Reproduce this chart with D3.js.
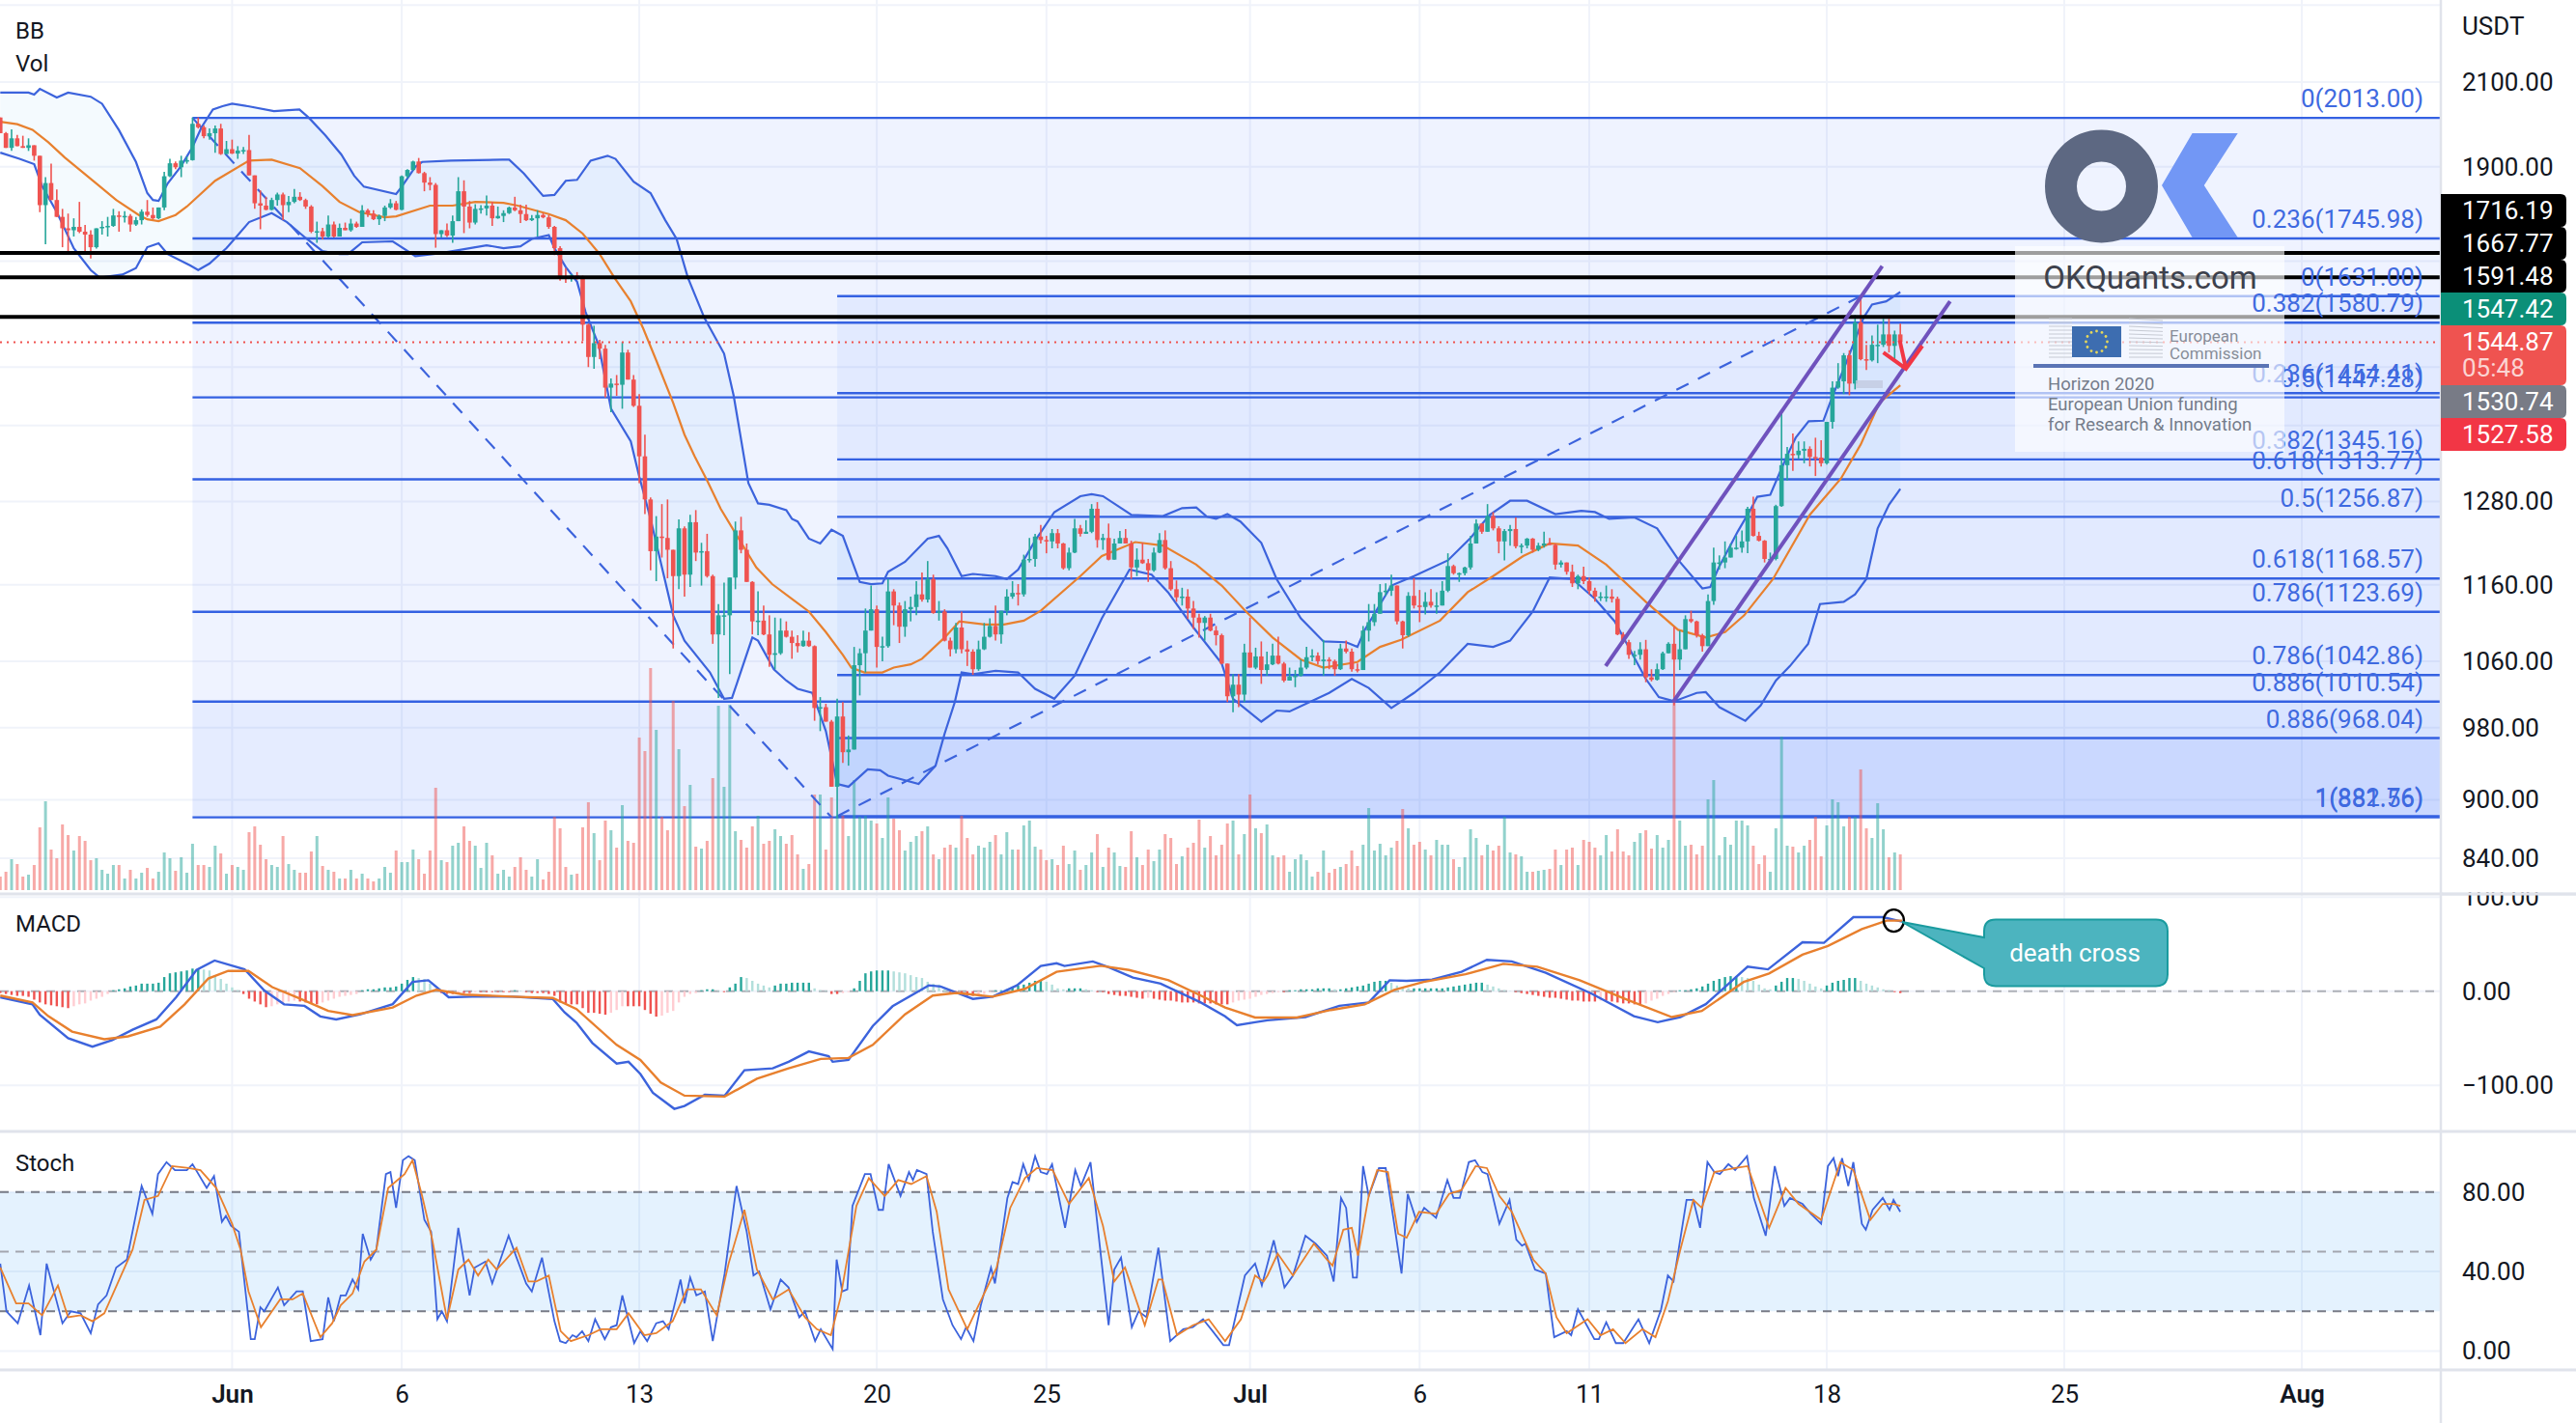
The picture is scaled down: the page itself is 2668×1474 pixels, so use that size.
<!DOCTYPE html>
<html>
<head>
<meta charset="utf-8">
<script src="https://cdnjs.cloudflare.com/ajax/libs/d3/7.8.5/d3.min.js"></script>
<style>
html,body{margin:0;padding:0;background:#fff;}
svg{display:block;font-family:Roboto,"Liberation Sans",sans-serif;}
</style>
</head>
<body>
<div id="chart"></div>
<script>
//4h candles, bar 0 is May 25 04:00. Opens are the close of the bar before
var firstOpen = 2014;
var closes = [
1977,1943,1965,1947,1943,1949,1925,1816,1864,1827,
1791,1767,1763,1770,1760,1754,1728,1767,1770,1772,
1794,1793,1793,1775,1784,1802,1795,1788,1811,1879,
1908,1899,1914,1915,1999,1991,1970,1977,1988,1929,
1940,1930,1937,1938,1881,1820,1815,1806,1827,1839,
1816,1823,1834,1827,1813,1760,1761,1750,1775,1750,
1768,1763,1777,1770,1805,1798,1786,1793,1811,1820,
1806,1879,1893,1912,1886,1865,1860,1755,1763,1752,
1782,1846,1813,1779,1808,1809,1815,1788,1793,1799,
1811,1805,1797,1784,1788,1795,1790,1770,1726,1669,
1667,1671,1669,1577,1518,1543,1533,1464,1471,1469,
1526,1478,1433,1350,1283,1207,1228,1226,1209,1172,
1240,1174,1249,1205,1207,1172,1094,1119,1119,1170,
1237,1209,1164,1111,1112,1094,1068,1070,1099,1091,
1083,1079,1086,1079,1003,1004,987,914,993,952,
955,1055,1070,1099,1127,1078,1079,1151,1132,1104,
1127,1130,1147,1140,1168,1122,1124,1086,1075,1103,
1075,1072,1050,1075,1091,1105,1094,1125,1144,1149,
1147,1195,1196,1228,1223,1221,1233,1218,1183,1205,
1240,1232,1235,1269,1223,1226,1195,1218,1226,1218,
1184,1195,1190,1180,1205,1223,1183,1154,1143,1144,
1128,1116,1109,1116,1099,1093,1057,1017,1031,1019,
1071,1052,1066,1049,1056,1067,1057,1036,1041,1042,
1052,1065,1067,1060,1062,1060,1050,1076,1072,1050,
1049,1099,1110,1121,1150,1152,1159,1111,1093,1145,
1132,1130,1137,1132,1132,1152,1186,1176,1176,1184,
1218,1247,1235,1258,1240,1221,1236,1239,1214,1215,
1225,1209,1215,1218,1216,1188,1191,1178,1162,1172,
1165,1152,1144,1144,1144,1141,1094,1084,1068,1068,
1075,1040,1037,1050,1070,1082,1062,1075,1114,1111,
1093,1079,1138,1191,1191,1198,1212,1212,1221,1269,
1229,1222,1196,1196,1273,1336,1354,1352,1359,1362,
1349,1348,1339,1406,1464,1475,1521,1471,1581,1514,
1512,1540,1540,1559,1538,1559,1544.87];
var highs = [
2014,1980,1986,1973,1971,1965,1949,1925,1877,1907,
1850,1808,1798,1788,1823,1774,1763,1767,1782,1791,
1808,1803,1803,1797,1791,1807,1827,1811,1811,1889,
1918,1912,1925,1923,2014,2014,1995,1988,1995,1999,
1959,1962,1947,1945,1973,1881,1848,1834,1832,1843,
1843,1836,1851,1844,1830,1816,1781,1768,1794,1781,
1777,1779,1787,1781,1816,1808,1805,1796,1815,1829,
1825,1881,1895,1914,1920,1889,1877,1864,1763,1777,
1794,1877,1870,1825,1818,1816,1837,1823,1813,1805,
1813,1834,1817,1817,1795,1805,1799,1795,1772,1730,
1686,1674,1678,1671,1579,1575,1549,1540,1480,1486,
1545,1531,1486,1453,1385,1286,1258,1276,1283,1209,
1253,1243,1260,1267,1219,1232,1174,1134,1163,1170,
1250,1257,1218,1165,1151,1132,1119,1116,1115,1111,
1099,1093,1099,1097,1080,1016,1008,989,1014,1010,
971,1078,1076,1128,1159,1132,1091,1168,1154,1136,
1138,1144,1165,1177,1193,1174,1138,1127,1090,1109,
1124,1086,1075,1086,1109,1115,1132,1125,1154,1165,
1161,1202,1226,1232,1245,1229,1239,1239,1219,1212,
1254,1245,1252,1276,1279,1232,1247,1225,1236,1239,
1222,1211,1219,1196,1212,1233,1237,1193,1166,1156,
1154,1138,1121,1118,1121,1105,1095,1057,1044,1044,
1082,1116,1077,1085,1072,1082,1091,1059,1052,1049,
1062,1078,1075,1071,1087,1065,1062,1082,1086,1076,
1057,1105,1134,1134,1161,1162,1174,1159,1112,1150,
1169,1153,1150,1154,1150,1165,1204,1188,1177,1185,
1229,1253,1247,1276,1264,1243,1239,1245,1256,1218,
1226,1226,1219,1235,1226,1218,1194,1191,1188,1174,
1185,1170,1156,1150,1159,1154,1144,1097,1087,1073,
1084,1087,1050,1057,1072,1084,1104,1099,1119,1125,
1112,1095,1147,1212,1201,1221,1218,1229,1237,1272,
1287,1235,1223,1205,1275,1420,1365,1387,1374,1374,
1366,1380,1376,1406,1475,1507,1525,1530,1595,1630,
1540,1557,1577,1588,1588,1566,1579];
var lows = [
1977,1943,1936,1947,1943,1936,1914,1801,1734,1827,
1791,1728,1715,1750,1757,1715,1705,1725,1754,1750,
1770,1760,1779,1760,1772,1775,1791,1786,1786,1805,
1877,1895,1877,1907,1914,1988,1965,1962,1932,1927,
1929,1929,1918,1929,1881,1808,1765,1805,1805,1815,
1784,1801,1820,1825,1808,1757,1737,1744,1748,1748,
1750,1763,1760,1768,1770,1791,1784,1774,1782,1808,
1805,1805,1875,1892,1885,1846,1848,1727,1748,1749,
1737,1782,1757,1767,1775,1798,1794,1772,1787,1780,
1797,1803,1778,1782,1782,1750,1788,1766,1712,1661,
1657,1659,1663,1547,1500,1497,1514,1447,1422,1450,
1428,1478,1431,1308,1261,1180,1165,1198,1169,1076,
1154,1144,1157,1193,1159,1170,1082,1015,1093,1044,
1154,1204,1164,1094,1093,1093,1053,1050,1068,1090,
1063,1071,1078,1078,988,976,987,914,881,940,
937,955,1018,1046,1099,1052,1060,1077,1106,1083,
1091,1111,1119,1137,1136,1121,1112,1085,1066,1070,
1070,1054,1043,1048,1074,1090,1086,1082,1119,1141,
1132,1144,1191,1185,1218,1204,1211,1211,1181,1180,
1204,1228,1232,1233,1212,1209,1194,1195,1218,1218,
1168,1172,1189,1164,1178,1204,1181,1152,1137,1132,
1114,1101,1090,1086,1098,1080,1056,1010,998,1004,
1010,1052,1050,1032,1042,1055,1056,1034,1036,1028,
1041,1050,1060,1056,1042,1050,1042,1049,1070,1047,
1046,1049,1085,1105,1121,1145,1145,1107,1076,1091,
1128,1110,1120,1129,1121,1132,1150,1174,1164,1173,
1181,1218,1232,1235,1237,1204,1194,1215,1211,1204,
1211,1205,1207,1212,1216,1181,1184,1174,1157,1154,
1161,1147,1137,1138,1137,1136,1093,1082,1063,1055,
1062,1034,1035,1036,1049,1070,1006,1049,1075,1109,
1090,1072,1079,1133,1181,1183,1198,1209,1205,1204,
1228,1221,1191,1194,1194,1272,1312,1327,1346,1339,
1334,1319,1334,1337,1395,1462,1453,1451,1461,1512,
1495,1510,1507,1536,1526,1514,1540];
var volumes = [
14,19,32,27,14,16,26,65,92,42,
33,68,57,41,56,51,31,33,21,17,
26,26,12,21,12,18,23,12,19,39,
33,20,34,18,48,26,26,24,46,38,
17,26,24,21,60,66,47,32,26,24,
56,27,21,18,18,40,56,25,21,19,
12,12,21,12,17,12,9,12,24,18,
41,29,29,42,32,17,41,106,31,29,
46,49,66,51,46,23,49,36,17,21,
14,24,34,21,14,32,11,19,76,64,
24,16,17,65,91,59,31,72,62,44,
88,51,49,158,144,230,166,76,62,196,
146,87,109,45,43,51,116,191,107,192,
61,52,44,66,77,48,51,63,56,48,
57,37,22,27,99,99,42,96,77,77,
56,114,76,77,72,69,54,96,74,62,
41,50,56,61,66,37,32,44,47,44,
77,54,37,46,44,50,57,37,60,42,
42,67,72,45,42,31,32,26,46,27,
41,21,26,39,58,24,44,39,25,24,
61,34,26,42,30,42,58,54,27,35,
44,49,73,44,56,36,47,69,72,37,
58,99,64,59,68,36,34,36,19,32,
37,31,14,19,41,18,22,24,27,41,
25,47,85,41,48,36,44,51,84,64,
47,50,42,36,52,47,47,32,24,34,
63,54,36,47,41,46,76,39,37,35,
19,19,20,21,22,42,26,42,44,26,
52,50,44,36,57,40,63,40,36,50,
59,62,43,57,44,52,196,72,46,47,
37,46,94,114,36,55,47,72,72,67,
46,27,36,19,64,159,46,45,39,46,
52,76,35,67,94,91,66,76,76,125,
64,54,90,63,34,39,37];

//Bollinger bands, [bar, price]
var bbUpper = [[0,2074],[5,2074],[6,2069],[7,2083],[10,2062],[12,2074],[16,2064],[18,2047],[21,1984],[24,1911],[26,1842],[27,1827],[28,1825],[29.6,1863],[32,1902],[34,1945],[35.6,1991],[37.6,2033],[39.3,2041],[41,2047],[43.8,2041],[48.4,2029],[52.9,2033],[54.6,2013],[57.5,1972],[60.3,1928],[62.6,1880],[64.3,1856],[70,1840],[71,1856],[73.4,1900],[74.6,1911],[79.7,1914],[88.8,1916],[90,1916],[92.6,1885],[96,1836],[98,1838],[100,1869],[102,1871],[104.4,1914],[107.4,1925],[108.8,1918],[112,1867],[115,1842],[117.6,1784],[119.6,1745],[121.6,1667],[124.5,1590],[128,1524],[129.7,1450],[132.3,1308],[134,1277],[136,1275],[139,1267],[140,1254],[141,1250],[143,1225],[145,1218],[147,1238],[149,1229],[152,1164],[154,1161],[156,1162],[157,1178],[160,1192],[164,1225],[166,1229],[167.5,1211],[170,1172],[172,1175],[176,1172],[178,1168],[180,1181],[183,1222],[186.4,1264],[191,1288],[193,1291],[195,1288],[200,1260],[205.6,1258],[209,1270],[211.5,1271],[213.4,1257],[215,1254],[217,1261],[219.3,1250],[223,1219],[225.7,1168],[230,1115],[234,1085],[238,1084],[240,1078],[241.3,1100],[246,1159],[250,1172],[256,1194],[260,1226],[263.4,1260],[267,1281],[270,1281],[275,1261],[279.6,1266],[282,1264],[284.5,1254],[289,1256],[293,1240],[297,1192],[301,1155],[302.4,1157],[303.9,1184],[307.3,1236],[309.6,1269],[310.7,1287],[313,1290],[315,1331],[316.4,1359],[317.5,1380],[319.8,1407],[322.4,1408],[323.8,1444],[326.6,1512],[329.5,1590],[331,1615],[333.5,1621],[336,1639]];
var bbBasis = [[0,2004],[3,1998],[5.7,1985],[8.5,1956],[11.4,1921],[17,1863],[20.5,1827],[24.5,1795],[26,1786],[28,1782],[31,1795],[33,1813],[38,1869],[44,1914],[48,1916],[53,1897],[57,1857],[60,1823],[63.5,1801],[68,1790],[70,1792],[76,1815],[80,1815],[84,1823],[89,1821],[91.5,1815],[97,1797],[100,1784],[103,1756],[106,1714],[108.6,1667],[111.5,1621],[113.7,1570],[116,1512],[119,1438],[121,1385],[122.8,1350],[125,1312],[127.4,1269],[129.7,1237],[133.7,1184],[136.5,1161],[140,1141],[143,1124],[146,1097],[149,1068],[150.5,1052],[152.8,1046],[156,1046],[158,1052],[161,1056],[163,1063],[167,1090],[169.6,1111],[174,1107],[177.5,1107],[181,1112],[184,1125],[191,1172],[194.8,1200],[200.7,1220],[205.6,1215],[211.5,1188],[216,1159],[220.3,1124],[225,1090],[230,1062],[234,1052],[240,1059],[244,1078],[247.7,1087],[254.6,1112],[259.5,1150],[264,1172],[269.3,1200],[274,1218],[279,1215],[284,1188],[291,1137],[296.7,1100],[301.6,1090],[305,1097],[308.4,1119],[313.5,1168],[320,1260],[325.5,1315],[329,1369],[332.3,1438],[336,1468]];
var bbLower = [[0,1932],[3.4,1918],[6,1906],[7.4,1857],[10,1801],[13,1726],[16,1682],[17.6,1667],[21.6,1673],[24,1686],[26,1728],[28,1736],[29.6,1714],[33.6,1691],[35,1682],[37,1695],[40,1726],[44,1780],[48,1799],[50.7,1780],[54,1747],[57,1720],[60,1714],[61.5,1714],[64,1738],[69.4,1740],[73.4,1710],[78,1716],[82,1724],[86,1732],[89,1726],[92,1730],[94,1745],[97,1753],[98,1726],[100,1688],[102,1659],[103.5,1601],[105.8,1540],[108,1428],[111.5,1374],[113,1318],[115,1254],[119,1119],[121,1086],[125.5,1046],[128,1014],[129.4,1015],[133,1090],[134,1086],[136.8,1050],[139,1036],[141,1026],[143.6,1021],[146,976],[148,917],[150,914],[153.4,933],[155.6,932],[157,926],[162.4,917],[165.4,937],[167,973],[168.8,1010],[170,1046],[172,1044],[176,1048],[180,1046],[183,1026],[186.4,1014],[190,1042],[194.8,1115],[199.7,1181],[203.6,1174],[206.5,1150],[211,1103],[216,1057],[218,1014],[223,987],[225.7,1000],[228,999],[235,1021],[239,1038],[242,1027],[246,1003],[250,1021],[254.6,1046],[259.5,1082],[264,1078],[267,1086],[271,1124],[274,1170],[278,1168],[282,1141],[285.5,1111],[291,1038],[293.3,1016],[296,1011],[300,1021],[301.6,1022],[304,1004],[308.6,988],[311.3,1006],[314,1036],[316.5,1054],[319.7,1082],[321.8,1134],[326,1137],[328,1147],[330,1168],[332,1240],[334,1275],[336,1299]];

//MACD, [bar, value]
var macdLine = [[0,-6.5],[5.7,-14],[7,-25],[12,-50],[16.3,-59],[19.8,-52],[23.4,-41],[27.6,-30],[31.1,-6.5],[34.7,22.5],[37.9,32.6],[43.2,23.2],[46.7,0.7],[50.2,-14],[53.8,-15.6],[56.6,-26.8],[59.4,-30],[63.7,-24.6],[69.4,-13.8],[72.9,9.8],[75.7,11.6],[79.3,-6.5],[83.5,-5.8],[90.6,-5.8],[97.7,-8.2],[99.8,-22.6],[101.9,-33.5],[104.7,-55],[109,-77],[111.1,-75],[113.2,-88],[115.4,-108],[119.2,-125],[121,-122],[124.6,-110],[128.1,-111],[131.6,-84],[136.6,-82],[139.4,-75],[143,-64],[146.5,-69],[147.2,-75],[150,-73],[154.3,-37],[157.8,-16],[164.2,6.2],[166.3,5],[172,-8.2],[175.5,-5.8],[179.8,6.2],[184,26.8],[186.8,29.7],[188.2,26.8],[193.2,31.6],[196,25.4],[200.3,14.5],[205.2,8],[212.3,-12],[216.6,-26.8],[218.7,-36.2],[221.9,-33],[224.1,-31],[230.8,-27.5],[236.8,-15.6],[242,-12],[245.7,11.6],[248.7,10.9],[253.2,12.3],[258.4,20.6],[262.9,33.3],[267.3,31.6],[273.3,19.5],[281.5,-2.9],[288.9,-26.5],[293.1,-33],[297.1,-27.5],[301.6,-13.8],[309,26],[312.6,23.2],[318.7,52],[322.5,51.4],[327.7,78.6],[332.9,78.6],[336.3,74]];
var macdSignal = [[0,-4.7],[5.7,-12],[8.5,-26.5],[12.7,-43],[18.4,-51],[22.6,-48],[28.3,-37.7],[32.6,-14],[36.8,13.5],[40.3,21.5],[43.9,21.5],[48.1,4.3],[53.1,-8.2],[58,-21],[62.3,-25.4],[69.4,-17.4],[73.6,-4.7],[77.1,1.4],[82.1,-3.6],[90.6,-5.8],[97.7,-7.2],[101.9,-19],[109,-57],[113.2,-73],[116.8,-97],[121,-111],[128.1,-112],[133.8,-93],[139.4,-82],[145.1,-72],[150,-71],[154.3,-57],[160,-24.6],[164.9,-4.7],[169.1,-1.8],[175.5,-5.8],[181.2,2.5],[186.8,20.6],[194.6,27],[199.6,22.5],[206.6,11.6],[212.3,-4.7],[216.6,-17.4],[221.9,-28],[229.3,-28],[235.3,-20],[241.3,-14],[246.5,1.4],[251.7,9.8],[259.1,18],[265.8,29],[271.8,26],[279.3,11.6],[287.4,-8.3],[295.6,-27.5],[300.9,-21],[308.3,9.8],[312.8,18.8],[318.7,38.8],[323.2,48],[329.2,66],[333.6,75],[336.3,75]];
var macdHist = [
-2,-3,-4,-5,-5,-6,-9,-12,-14,-15,
-16,-17,-18,-16,-14,-13,-10,-8,-6,-3,
1,2,3,5,6,8,8,8,9,15,
19,20,21,22,24,24,23,22,17,13,
8,4,1,-3,-8,-11,-14,-17,-16,-14,
-12,-11,-10,-11,-12,-13,-14,-12,-10,-8,
-6,-5,-4,-3,1,2,2,3,4,4,
5,8,12,15,14,13,8,2,-2,-3,
-3,-2,-2,-2,-1,-1,-1,-1,-1,-1,
-1,1,0.5,-1,-2,-2,-2,-3,-5,-12,
-13,-14,-14,-18,-23,-23,-24,-25,-23,-20,
-16,-16,-16,-16,-20,-24,-27,-26,-23,-21,
-12,-6,-3,-2,1,2,2,0.5,-1,4,
8,15,14,11,8,6,4,6,8,8,
9,9,9,9,3,1,0.5,-3,-3,-2,
-1,3,11,19,21,22,22,22,21,20,
19,17,15,14,10,8,7,2,-1,-3,
-4,-5,-5,-4,-3,-1,1,1,2,4,
6,7,9,11,12,10,7,3,2,3,
3,3,2,1,-1,-1,-3,-4,-5,-5,
-6,-7,-8,-7,-8,-9,-10,-10,-11,-12,
-12,-12,-13,-13,-13,-14,-14,-14,-12,-10,
-9,-8,-6,-4,-3,-2,-1,-1,1,1,
2,2,2,3,3,3,2,2,3,4,
5,6,8,10,11,11,9,6,4,3,
3,3,3,3,3,3,4,5,6,7,
8,9,9,7,5,3,1,0.3,-1,-2,
-3,-4,-5,-6,-7,-7,-8,-9,-10,-10,
-11,-11,-11,-10,-10,-11,-12,-13,-13,-14,
-14,-13,-10,-8,-5,-3,-1,1,1,2,
3,5,8,11,13,15,16,16,15,14,
11,7,3,2,6,10,14,14,13,11,
8,5,3,6,9,11,12,14,14,11,
8,6,4,2,1,-1,-2];

//Stochastic, [bar, value]
var stochK = [[0,44],[1.1,20],[3.1,14],[5.1,33],[7.1,8],[8.2,44],[11,14],[12.5,20],[14.2,19],[16,9],[17.3,23.5],[18.8,28],[20.5,42],[22.4,46],[25,83],[26.9,69],[27.9,89],[29.4,95],[30.9,91],[33,91],[34,94],[36.5,82],[37.8,88],[39.2,65],[39.9,68],[40.8,63],[42.2,60],[44.3,6],[45,6],[46,22],[46.7,20],[49.1,32],[50.2,23],[52.4,30],[53.5,30],[54.9,5],[57,6],[58,27],[59,15],[60.2,28],[61.1,28],[62.3,36],[63.3,31],[64.1,59],[65.5,46],[66.5,51],[68.2,89],[69,90],[70,72],[71.2,96],[72.2,98],[73.3,96],[75,66],[76.2,60],[77.3,16],[78.1,20],[79,15],[81,62],[83,28],[83.9,42],[85.8,45],[87,34],[89.9,58],[91.3,47],[93,34],[94,30],[95.8,47],[98,15],[99,5],[100,4],[101.2,8],[101.9,7],[102.9,10],[104,5],[105.2,16],[106.9,6],[108,12],[109,13],[110,28],[112.1,4],[113.2,10],[114.4,5],[116,14],[117.2,15],[118.2,11],[120.3,36],[121,24],[122,37],[123.1,28],[124.6,30],[126,5],[128.1,39],[130.2,83],[132,60],[133.2,38],[134.2,40],[136.2,21],[138,36],[139.4,32],[141.3,17],[142.3,20],[144.1,5],[145.1,11],[147.2,1],[147.9,46],[148.9,30],[149.8,31],[150.7,73],[152.9,89],[153.9,89],[155.3,71],[156.1,71],[157.1,94],[159.2,78],[160.7,90],[161.4,86],[162.1,91],[163.8,89],[164.9,60],[166.7,26],[168.4,13],[169.9,6],[170.8,12],[172.1,5],[173.4,23],[175.2,42],[175.9,34],[178.1,77],[179,85],[180,84],[180.9,94],[181.9,86],[183,98],[184,90],[185.1,89],[186,94],[188.3,62],[190.1,91],[191.1,83],[192.8,95],[194.2,59],[196,13],[197,41],[198.2,47],[200.1,12],[201.3,20],[202.7,17],[204.8,52],[206.9,5],[209.2,11],[210.9,12],[212.7,16],[214.4,10],[216.3,3],[217.3,3],[220.1,38],[221.9,44],[223.1,33],[225.2,55.7],[227.1,32],[228.6,38],[230.8,58],[232.6,54],[234.6,48],[235.8,35],[237.1,77],[238,72],[239.2,37],[239.9,37],[241,93],[242,78],[243.8,92],[245,92],[246.5,64],[247.8,39],[248.9,79],[250.5,65],[251.8,72],[253.9,67],[255.9,86],[257,77],[258.1,77],[259.7,95],[260.8,96],[262.1,90],[263,89],[265.1,64],[266.9,76],[268.1,56],[269.1,53],[269.7,54],[271.4,41],[273.3,39],[274.8,7],[277,10],[277.8,8],[279,21],[281.9,6],[282.7,6],[284,14.5],[285.7,4],[287,4],[289.7,16],[291.6,4],[293.7,21],[294.9,38],[295.9,35],[298.2,76],[299.4,76],[300.6,62],[301.9,95],[303.1,90],[304.1,89],[305.6,94],[306.8,91],[308.9,98],[310.1,77],[312.2,58],[313.8,93],[315.5,73],[316.5,77],[318.7,74],[320.2,69],[322,64],[323.2,93],[324.2,97],[325,88],[325.7,97],[326.8,83],[327.7,95],[329.2,64],[329.9,61],[331.1,71],[332.9,77],[334.1,71],[334.8,76],[336,70]];
var stochD = [[0,42],[2.8,24],[5,24],[7.4,18],[10.2,33],[12,17],[14.2,18],[16.3,15],[18.4,19],[21.2,37],[23.4,51],[25.5,76],[27.9,78],[30.4,93],[33.3,92],[35.4,91],[38.2,82],[41,64],[42.5,51],[43.9,30],[46.1,12],[49.5,26],[51.7,26],[53.5,29],[56.6,7],[58.7,14],[60.2,23],[62.3,29],[64.4,45],[66.5,51],[68.6,82],[71.5,89],[72.9,96],[74.6,78],[76.4,56],[79,16],[81,41],[82.8,46],[84.5,38],[86.3,46],[87.8,41],[91.3,52],[93.4,35],[94.8,35],[97,38],[99.1,10],[100.9,5],[104,8],[106.2,11],[109,11],[111.1,19],[113.9,8],[116,9],[118.9,15],[121.4,31],[123.9,31],[126.7,18],[128.8,44],[131.6,71],[133.8,41],[136.6,26],[139.4,31],[142.3,17],[144.4,11],[146.9,8],[148.6,27],[151.4,73],[153.6,87],[156.4,78],[158.8,86],[161.1,84],[163.8,88],[165.6,70],[167.7,31],[171,11],[173,23],[176.2,42],[178.6,72],[181.2,87],[183.3,92],[186.1,91],[189,74],[192.5,87],[195,63],[197,35],[198.9,42],[202.4,13],[204.8,36],[205.5,36],[208.1,8],[210.9,13],[213.7,16],[216.6,5],[219.4,16],[221.9,38],[223.4,35],[224.1,38],[225.9,49],[228.6,38],[232.3,54],[234.6,46],[235.6,43],[237.5,61],[239,62],[240.1,48],[242,78],[243.5,91],[245.4,90],[247.2,59],[248.7,57],[250.9,70],[253.9,69],[256.2,79],[258.4,81],[260.9,93],[262.9,92],[265.1,78],[267.3,70],[271.1,46],[273.3,39],[275.2,17],[277,9],[280.7,16],[283,8],[285.2,11],[287.4,4],[290.4,11],[292.7,7],[294.9,25],[297.1,51],[299.4,76],[300.9,72],[303.1,90],[306.8,92],[309,93],[312.8,62],[315.7,82],[318,74],[322,66],[325.4,95],[327.7,91],[330.7,66],[332.9,74],[334.8,74],[336,73]];

//Fibonacci retracements
var fibALevels = ['0','0.236','0.382','0.5','0.618','0.786','0.886','1'];
var fibAPrices = [2013,1745.98,1580.79,1447.28,1313.77,1123.69,1010.54,881.56];
var fibBLevels = ['0','0.236','0.382','0.5','0.618','0.786','0.886','1'];
var fibBPrices = [1631,1454.41,1345.16,1256.87,1168.57,1042.86,968.04,882.76];
var fibAStartBar = 34, fibBStartBar = 148;
var trendA = [[34,2013],[147,881.56]];
var trendB = [[148,882.76],[329,1631]];

//Drawings
var channelUpper = [[283.9,1054],[332.8,1690]];
var channelLower = [[295.8,1010],[344.8,1621]];
var arrowShaft = [[335.9,1548],[337,1497]];
var arrowHead = [[333,1526],[337,1497],[339.9,1538]];
var blackLevels = [1716.19,1667.77,1591.48];
var lastPrice = 1544.87;

//Axes
var priceLabels = [2100,1900,1280,1160,1060,980,900,840];
var priceGrid = [2300,2100,1900,1700,1500,1400,1280,1160,1060,980,900,840];
var macdTicks = [100,0,-100];
var stochTicks = [80,40,0];
var stochBands = [80,50,20];
var timeTicks = ['2022-06-01','2022-06-06','2022-06-13','2022-06-20','2022-06-25','2022-07-01','2022-07-06','2022-07-11','2022-07-18','2022-07-25','2022-08-01'];
var timeLabels = ['Jun','6','13','20','25','Jul','6','11','18','25','Aug'];

var priceTags = ['1716.19','1667.77','1591.48','1547.42','1544.87','1530.74','1527.58'];
var tagColors = ['#000000','#000000','#000000','#0b8f78','#ef5350','#787b86','#f23645'];

var W = 2668, H = 1474, axisX = 2528;
var mainBottom = 926, macdBottom = 1172, stochBottom = 1419;
var up = '#26a69a', down = '#ef5350', blue = '#3c63dc', orange = '#e8802e', fibBlue = '#3461e2';

var startTime = Date.UTC(2022,4,25,4);
var xTime = d3.scaleUtc()
  .domain([new Date(Date.UTC(2022,5,1)), new Date(Date.UTC(2022,7,1))])
  .range([240.4, 2384]);
var xBar = function(i){ return xTime(new Date(startTime + i*4*3600*1000)); };

var yPrice = d3.scaleLog().domain([840,2100]).range([889,85]);
var yVol = d3.scaleLinear().domain([0,230]).range([922,692]);
var yMacd = d3.scaleLinear().domain([-100,100]).range([1124.2,929.2]);
var yStoch = d3.scaleLinear().domain([0,100]).range([1399.5,1193.5]);

var opens = closes.map(function(c,i){ return i === 0 ? firstOpen : closes[i-1]; });

var svg = d3.select('#chart').append('svg').attr('width',W).attr('height',H);
var defs = svg.append('defs');
defs.append('clipPath').attr('id','clipMain').append('rect').attr('x',0).attr('y',0).attr('width',axisX).attr('height',mainBottom);

svg.append('rect').attr('width',W).attr('height',H).attr('fill','#fff');

//grid
var grid = svg.append('g').attr('stroke','#f0f3fa').attr('stroke-width',2);
timeTicks.forEach(function(t){
  var x = xTime(new Date(t+'T00:00:00Z'));
  grid.append('line').attr('x1',x).attr('x2',x).attr('y1',0).attr('y2',stochBottom);
});
priceGrid.forEach(function(p){
  grid.append('line').attr('x1',0).attr('x2',axisX).attr('y1',yPrice(p)).attr('y2',yPrice(p));
});
macdTicks.forEach(function(v){
  grid.append('line').attr('x1',0).attr('x2',axisX).attr('y1',yMacd(v)).attr('y2',yMacd(v));
});
stochTicks.forEach(function(v){
  grid.append('line').attr('x1',0).attr('x2',axisX).attr('y1',yStoch(v)).attr('y2',yStoch(v));
});

var main = svg.append('g').attr('clip-path','url(#clipMain)');

//fib bands
var draw_fib_bands = function(prices, startBar, lastAlpha, alpha){
  for (var i=0; i<prices.length-1; i++){
    main.append('rect')
      .attr('x',xBar(startBar)).attr('width',axisX-xBar(startBar))
      .attr('y',yPrice(prices[i])).attr('height',yPrice(prices[i+1])-yPrice(prices[i]))
      .attr('fill','#2962ff')
      .attr('fill-opacity', i === prices.length-2 ? lastAlpha : alpha);
  }
};
draw_fib_bands(fibAPrices, fibAStartBar, 0.12, 0.075);
draw_fib_bands(fibBPrices, fibBStartBar, 0.14, 0.06);

//OK logo sits under the fib lines
svg.append('circle').attr('cx',2176.5).attr('cy',193).attr('r',42).attr('fill','none').attr('stroke','#5d6882').attr('stroke-width',33);
svg.append('polygon').attr('points','2270.6,138 2317.7,138 2282.8,192 2317.7,246 2270.6,246 2239,192').attr('fill','#7297f5');

//bollinger fill
var line_bar_price = d3.line().x(function(d){return xBar(d[0]);}).y(function(d){return yPrice(d[1]);});
main.append('path')
  .attr('d', line_bar_price(bbUpper.concat(bbLower.slice().reverse())) + 'Z')
  .attr('fill','#2196f3').attr('fill-opacity',0.05);

//fib lines
var draw_fib_lines = function(prices, startBar){
  prices.forEach(function(p){
    main.append('line')
      .attr('x1',xBar(startBar)).attr('x2',axisX)
      .attr('y1',yPrice(p)).attr('y2',yPrice(p))
      .attr('stroke',fibBlue).attr('stroke-width',2.4);
  });
};
draw_fib_lines(fibAPrices, fibAStartBar);
draw_fib_lines(fibBPrices, fibBStartBar);

//volume
main.selectAll('rect.vol').data(volumes).enter().append('rect')
  .attr('class','vol')
  .attr('x',function(d,i){return xBar(i)-1.5;})
  .attr('width',3)
  .attr('y',function(d){return yVol(d);})
  .attr('height',function(d){return yVol(0)-yVol(d);})
  .attr('fill',function(d,i){return closes[i]>=opens[i] ? up : down;})
  .attr('fill-opacity',0.5);

//trend lines
[trendA,trendB].forEach(function(t){
  main.append('path').attr('d',line_bar_price(t))
    .attr('fill','none').attr('stroke',blue).attr('stroke-width',2.2).attr('stroke-dasharray','14 11');
});

//bollinger lines
main.append('path').attr('d',line_bar_price(bbUpper)).attr('fill','none').attr('stroke',blue).attr('stroke-width',2.2);
main.append('path').attr('d',line_bar_price(bbLower)).attr('fill','none').attr('stroke',blue).attr('stroke-width',2.2);
main.append('path').attr('d',line_bar_price(bbBasis)).attr('fill','none').attr('stroke',orange).attr('stroke-width',2.2);

//candles
var candle = main.selectAll('g.candle').data(closes).enter().append('g').attr('class','candle');
candle.append('line')
  .attr('x1',function(d,i){return xBar(i);})
  .attr('x2',function(d,i){return xBar(i);})
  .attr('y1',function(d,i){return yPrice(Math.max(highs[i],opens[i],closes[i]));})
  .attr('y2',function(d,i){return yPrice(Math.min(lows[i],opens[i],closes[i]));})
  .attr('stroke',function(d,i){return closes[i]>=opens[i] ? up : down;})
  .attr('stroke-width',1.6);
candle.append('rect')
  .attr('x',function(d,i){return xBar(i)-2.3;})
  .attr('width',4.6)
  .attr('y',function(d,i){return yPrice(Math.max(opens[i],closes[i]));})
  .attr('height',function(d,i){return Math.max(1.5,Math.abs(yPrice(opens[i])-yPrice(closes[i])));})
  .attr('fill',function(d,i){return closes[i]>=opens[i] ? up : down;});

//last price
main.append('line').attr('x1',0).attr('x2',axisX).attr('y1',yPrice(lastPrice)).attr('y2',yPrice(lastPrice))
  .attr('stroke','#ef5350').attr('stroke-width',2).attr('stroke-dasharray','2 5');

//support and resistance
blackLevels.forEach(function(p){
  main.append('line').attr('x1',0).attr('x2',axisX).attr('y1',yPrice(p)).attr('y2',yPrice(p))
    .attr('stroke','#000').attr('stroke-width',4);
});

//channel
[channelUpper,channelLower].forEach(function(c){
  main.append('path').attr('d',line_bar_price(c)).attr('fill','none').attr('stroke','#6f52bd').attr('stroke-width',4);
});
main.append('rect').attr('x',1922).attr('y',394).attr('width',28).attr('height',8).attr('fill','#c3cbe0').attr('fill-opacity',0.8);

//red arrow
[arrowShaft,arrowHead].forEach(function(a){
  main.append('path').attr('d',line_bar_price(a)).attr('fill','none').attr('stroke','#f23645').attr('stroke-width',4);
});

//fib labels. skip is drawn later, on top of the logo panel
var draw_fib_labels = function(levels, prices, only){
  prices.forEach(function(p,i){
    if (only(i)){
      svg.append('text').attr('x',2510).attr('y',yPrice(p)-20).attr('dy','0.35em')
        .attr('text-anchor','end').attr('font-size',26).attr('fill','#3f6ae0')
        .text(levels[i]+'('+p.toFixed(2)+')');
    }
  });
};
draw_fib_labels(fibALevels, fibAPrices, function(i){return i !== 2;});
draw_fib_labels(fibBLevels, fibBPrices, function(i){return true;});

//logo panel, washes out everything under it
svg.append('rect').attr('x',2087).attr('y',255).attr('width',279).attr('height',213).attr('fill','#fff').attr('fill-opacity',0.62);
svg.append('text').attr('x',2227).attr('y',287).attr('dy','0.35em').attr('text-anchor','middle').attr('font-size',33).attr('fill','#3d414c').text('OKQuants.com');
draw_fib_labels(fibALevels, fibAPrices, function(i){return i === 2;});

//EU building stripes
var eu = svg.append('g').attr('stroke','#c6cad3').attr('stroke-width',1);
d3.range(330,371,4).forEach(function(y){
  eu.append('line').attr('x1',2122).attr('x2',2146).attr('y1',y).attr('y2',y);
  eu.append('line').attr('x1',2205).attr('x2',2240).attr('y1',y).attr('y2',y+ (370-y)*0.05);
});
svg.append('rect').attr('x',2146).attr('y',338).attr('width',51).attr('height',32).attr('fill','#3d6db0');
d3.range(12).forEach(function(k){
  var a = k*Math.PI/6;
  svg.append('circle').attr('cx',2171.5+Math.cos(a)*11).attr('cy',354+Math.sin(a)*11).attr('r',1.4).attr('fill','#e6d75a');
});
svg.append('text').attr('x',2247).attr('y',348).attr('dy','0.35em').attr('font-size',17).attr('fill','#878d98').text('European');
svg.append('text').attr('x',2247).attr('y',366).attr('dy','0.35em').attr('font-size',17).attr('fill','#878d98').text('Commission');
svg.append('rect').attr('x',2106).attr('y',377).attr('width',244).attr('height',4).attr('fill','#5a74b5');
[['Horizon 2020',398],['European Union funding',419],['for Research & Innovation',440]].forEach(function(t){
  svg.append('text').attr('x',2121).attr('y',t[1]).attr('dy','0.35em').attr('font-size',18.5).attr('fill','#747c8a').text(t[0]);
});

//MACD pane
svg.append('line').attr('x1',0).attr('x2',axisX).attr('y1',yMacd(0)).attr('y2',yMacd(0))
  .attr('stroke','#aeb1b8').attr('stroke-width',2).attr('stroke-dasharray','9 7');
var hist_color = function(v,i){
  var prev = i === 0 ? 0 : macdHist[i-1];
  if (v >= 0) return v >= prev ? up : '#b2dfdb';
  return v <= prev ? '#ef5350' : '#ffcdd2';
};
svg.selectAll('rect.hist').data(macdHist).enter().append('rect')
  .attr('class','hist')
  .attr('x',function(d,i){return xBar(i)-1.2;})
  .attr('width',2.4)
  .attr('y',function(d){return Math.min(yMacd(d),yMacd(0));})
  .attr('height',function(d){return Math.abs(yMacd(d)-yMacd(0));})
  .attr('fill',hist_color);
var line_macd = d3.line().x(function(d){return xBar(d[0]);}).y(function(d){return yMacd(d[1]);});
svg.append('path').attr('d',line_macd(macdLine)).attr('fill','none').attr('stroke',blue).attr('stroke-width',2.4);
svg.append('path').attr('d',line_macd(macdSignal)).attr('fill','none').attr('stroke',orange).attr('stroke-width',2.4);

//death cross marker and callout
svg.append('ellipse').attr('cx',1961.4).attr('cy',953.6).attr('rx',10.5).attr('ry',11.5)
  .attr('fill','none').attr('stroke','#000').attr('stroke-width',2.4);
svg.append('path')
  .attr('d','M2067,952.5 H2233 Q2245,952.5 2245,964.5 V1009.4 Q2245,1021.4 2233,1021.4 H2067 Q2055,1021.4 2055,1009.4 V1003 L1970,955 L2055,971 V964.5 Q2055,952.5 2067,952.5 Z')
  .attr('fill','#4cb4bf').attr('stroke','#1a9b9f').attr('stroke-width',2);
svg.append('text').attr('x',2149).attr('y',987).attr('dy','0.35em').attr('text-anchor','middle').attr('font-size',26).attr('fill','#fff').text('death cross');

//Stoch pane
svg.append('rect').attr('x',0).attr('width',axisX).attr('y',yStoch(80)).attr('height',yStoch(20)-yStoch(80))
  .attr('fill','#2196f3').attr('fill-opacity',0.12);
stochBands.forEach(function(v){
  svg.append('line').attr('x1',0).attr('x2',axisX).attr('y1',yStoch(v)).attr('y2',yStoch(v))
    .attr('stroke', v === 50 ? '#a3a6af' : '#787b86').attr('stroke-width',2).attr('stroke-dasharray','9 7');
});
var line_stoch = d3.line().x(function(d){return xBar(d[0]);}).y(function(d){return yStoch(d[1]);});
svg.append('path').attr('d',line_stoch(stochK)).attr('fill','none').attr('stroke',blue).attr('stroke-width',1.8);
svg.append('path').attr('d',line_stoch(stochD)).attr('fill','none').attr('stroke',orange).attr('stroke-width',1.8);

//pane separators and axis lines
var sep = svg.append('g').attr('stroke','#e0e3eb');
[mainBottom,macdBottom,stochBottom].forEach(function(y){
  sep.append('line').attr('x1',0).attr('x2',W).attr('y1',y).attr('y2',y).attr('stroke-width',3);
});
sep.append('line').attr('x1',axisX).attr('x2',axisX).attr('y1',0).attr('y2',H).attr('stroke-width',2.5);

//axes
var style_axis = function(g){
  g.select('.domain').remove();
  g.selectAll('.tick line').remove();
  g.selectAll('text').attr('fill','#131722').attr('font-size',26).attr('font-family','Roboto,"Liberation Sans",sans-serif');
};
var axis_right = function(scale, ticks, node){
  node.attr('transform','translate('+(axisX+22)+',0)')
    .call(d3.axisRight(scale).tickValues(ticks).tickSize(0).tickPadding(0).tickFormat(d3.format('.2f')))
    .call(style_axis);
};
axis_right(yMacd, macdTicks, svg.append('g'));
//the 100.00 label is cut by the pane border
svg.append('rect').attr('x',axisX+2).attr('y',900).attr('width',W-axisX-2).attr('height',24.5).attr('fill','#fff');
svg.append('line').attr('x1',axisX).attr('x2',W).attr('y1',mainBottom).attr('y2',mainBottom).attr('stroke','#e0e3eb').attr('stroke-width',3);
axis_right(yPrice, priceLabels, svg.append('g'));
axis_right(yStoch, stochTicks, svg.append('g'));

var timeAxis = svg.append('g').attr('transform','translate(0,1435)')
  .call(d3.axisBottom(xTime)
    .tickValues(timeTicks.map(function(t){return new Date(t+'T00:00:00Z');}))
    .tickSize(0).tickPadding(0)
    .tickFormat(function(d,i){return timeLabels[i];}))
  .call(style_axis);
timeAxis.selectAll('text').attr('dy','0.71em').attr('font-weight',function(d,i){return timeLabels[i].length === 3 ? 600 : 400;});

//price tags
var tagY = [201,235,269,303,337,399,433], tagH = [34,34,34,34,62,34,34];
priceTags.forEach(function(t,i){
  svg.append('path')
    .attr('d','M'+axisX+','+tagY[i]+'H2652Q2658,'+tagY[i]+' 2658,'+(tagY[i]+6)+'V'+(tagY[i]+tagH[i]-6)+'Q2658,'+(tagY[i]+tagH[i])+' 2652,'+(tagY[i]+tagH[i])+'H'+axisX+'Z')
    .attr('fill',tagColors[i]);
  svg.append('text').attr('x',axisX+22).attr('y',tagY[i]+17).attr('dy','0.35em').attr('font-size',26).attr('fill','#fff').text(t);
});
svg.append('text').attr('x',axisX+22).attr('y',381).attr('dy','0.35em').attr('font-size',26).attr('fill','#fff').attr('fill-opacity',0.75).text('05:48');

//titles
svg.append('text').attr('x',axisX+22).attr('y',27).attr('dy','0.35em').attr('font-size',26).attr('fill','#131722').text('USDT');
[['BB',32],['Vol',66],['MACD',957],['Stoch',1205]].forEach(function(t){
  svg.append('text').attr('x',16).attr('y',t[1]).attr('dy','0.35em').attr('font-size',24).attr('fill','#131722').text(t[0]);
});
</script>
</body>
</html>
